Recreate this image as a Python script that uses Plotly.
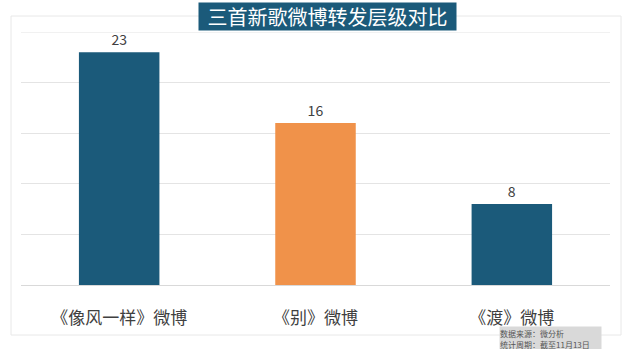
import plotly.graph_objects as go

categories = ["《像风一样》微博", "《别》微博", "《渡》微博"]
values = [23, 16, 8]
colors = ["#1b5a7a", "#f0924a", "#1b5a7a"]
title_text = "三首新歌微博转发层级对比"
source_lines = ["数据来源：微分析", "统计周期：截至11月13日"]

W, H = 630, 349
FONT = "Noto Sans CJK SC"

fig = go.Figure()
fig.add_trace(go.Bar(
    x=categories, y=values,
    marker=dict(color=colors, line=dict(width=0)),
    width=0.41,
    text=[str(v) for v in values],
    textposition="outside",
    textfont=dict(size=14, color="#404040", family=FONT),
    cliponaxis=False,
))

fig.update_layout(
    width=W, height=H,
    margin=dict(l=21, r=20, t=32, b=64),
    paper_bgcolor="white", plot_bgcolor="white",
    showlegend=False,
    font=dict(family=FONT),
    bargap=0.59,
    xaxis=dict(
        showgrid=False, showline=False, zeroline=False,
        ticks="outside", ticklen=18, tickcolor="rgba(0,0,0,0)",
        tickfont=dict(size=17, color="#404040", family=FONT),
    ),
    yaxis=dict(
        range=[0, 25], dtick=5, showticklabels=False,
        showgrid=True, gridcolor="#e4e4e4", gridwidth=1,
        zeroline=True, zerolinecolor="#d9d9d9", zerolinewidth=1,
        showline=False, ticks="",
    ),
    shapes=[
        dict(
            type="rect", xref="paper", yref="paper",
            x0=-10/589, x1=600/589, y0=-50/253, y1=269/253,
            line=dict(color="#e8e8e8", width=1), fillcolor="rgba(0,0,0,0)", layer="below",
        ),
        dict(
            type="line", xref="paper", yref="y", x0=0, x1=1, y0=25, y1=25,
            line=dict(color="#e4e4e4", width=1), layer="below",
        ),
    ],
    annotations=[
        dict(
            text=title_text, xref="paper", yref="paper",
            x=(327.5-21)/589, y=(285-16.5)/253, xanchor="center", yanchor="middle",
            showarrow=False, bgcolor="#1b5a7a", width=255, height=25,
            font=dict(size=20, color="white", family=FONT),
        ),
        dict(
            text="<br>".join(source_lines), xref="paper", yref="paper",
            x=(499-21)/589, y=(285-326)/253, xanchor="left", yanchor="top",
            showarrow=False, bgcolor="#d9d9d9", width=101, height=24, align="left",
            font=dict(size=8, color="#555555", family=FONT),
            borderpad=0,
        ),
    ],
)

fig.write_html("out.html")
